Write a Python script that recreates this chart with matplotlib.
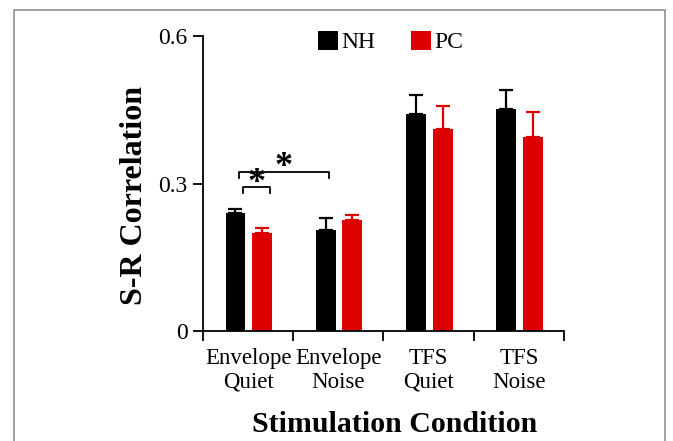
import matplotlib
matplotlib.use("Agg")
import matplotlib.pyplot as plt
from matplotlib.patches import Patch, Rectangle
import numpy as np

categories = ["Envelope\nQuiet", "Envelope\nNoise", "TFS\nQuiet", "TFS\nNoise"]
series_names = ["NH", "PC"]
nh_values = [0.240, 0.206, 0.441, 0.452]
nh_errors = [0.008, 0.023, 0.039, 0.038]
pc_values = [0.199, 0.225, 0.410, 0.395]
pc_errors = [0.011, 0.010, 0.047, 0.051]
yticks = [0, 0.3, 0.6]
ytick_labels = ["0", "0.3", "0.6"]

plt.rcParams['font.family'] = ['Liberation Serif', 'DejaVu Serif']

fig = plt.figure(figsize=(6.73, 4.41), dpi=100)
ax = fig.add_axes([0.3016, 0.2494, 0.5364, 0.6689])

x = np.arange(len(categories))
w = 0.22
black = "#000000"
red = "#dd0000"
ax.bar(x + 0.36, nh_values, width=w, color=black, zorder=2)
ax.bar(x + 0.655, pc_values, width=w, color=red, zorder=2)
ax.errorbar(x + 0.36, nh_values, yerr=[np.zeros(4), nh_errors], fmt="none",
            ecolor=black, elinewidth=1.6, capsize=5, capthick=1.6, zorder=1)
ax.errorbar(x + 0.655, pc_values, yerr=[np.zeros(4), pc_errors], fmt="none",
            ecolor=red, elinewidth=1.6, capsize=5, capthick=1.6, zorder=1)

ax.set_xlim(0, 4)
ax.set_ylim(0, 0.6)
ax.set_yticks(yticks)
ax.set_yticklabels(ytick_labels, fontsize=17)
ax.set_xticks(np.arange(5))
ax.set_xticklabels([])
ax.set_xticks(x + 0.5, minor=True)
ax.set_xticklabels(categories, minor=True, fontsize=16.5, linespacing=1.2)
ax.tick_params(axis="x", which="minor", length=0, pad=12)
ax.tick_params(axis="x", which="major", length=7, width=1.3, direction="out")
ax.tick_params(axis="y", length=7, width=1.3, direction="out", pad=4)
for s in ["top", "right"]:
    ax.spines[s].set_visible(False)
for s in ["left", "bottom"]:
    ax.spines[s].set_linewidth(1.3)

ax.set_ylabel("S-R Correlation", fontsize=23, fontweight="bold")
ax.yaxis.set_label_coords(-0.149, 0.46)
ax.set_xlabel("Stimulation Condition", fontsize=21.5, fontweight="bold")
ax.xaxis.set_label_coords(0.53, -0.272)

# significance brackets
def bracket(x0, x1, ytop, ybot, xs, ys):
    ax.plot([x0, x0, x1, x1], [ybot, ytop, ytop, ybot], color="black", lw=1.3,
            clip_on=False)
    ax.text(xs, ys, "*", ha="center", va="center", fontsize=26, fontweight="bold")

bracket(0.44, 0.74, 0.292, 0.280, 0.59, 0.300)
bracket(0.40, 1.40, 0.324, 0.311, 0.89, 0.332)

handles = [Patch(facecolor=black), Patch(facecolor=red)]
ax.legend(handles, series_names, loc="upper center", bbox_to_anchor=(0.52, 1.09),
          ncol=2, frameon=False, fontsize=17, handlelength=0.85, handleheight=0.85,
          handletextpad=0.15, columnspacing=1.5)

fig.patches.append(Rectangle((14 / 673, -0.05), 651 / 673, 1.05 - 10 / 441,
                             transform=fig.transFigure, fill=False,
                             edgecolor="#999999", lw=1.3))

fig.savefig("out.png", dpi=100)
